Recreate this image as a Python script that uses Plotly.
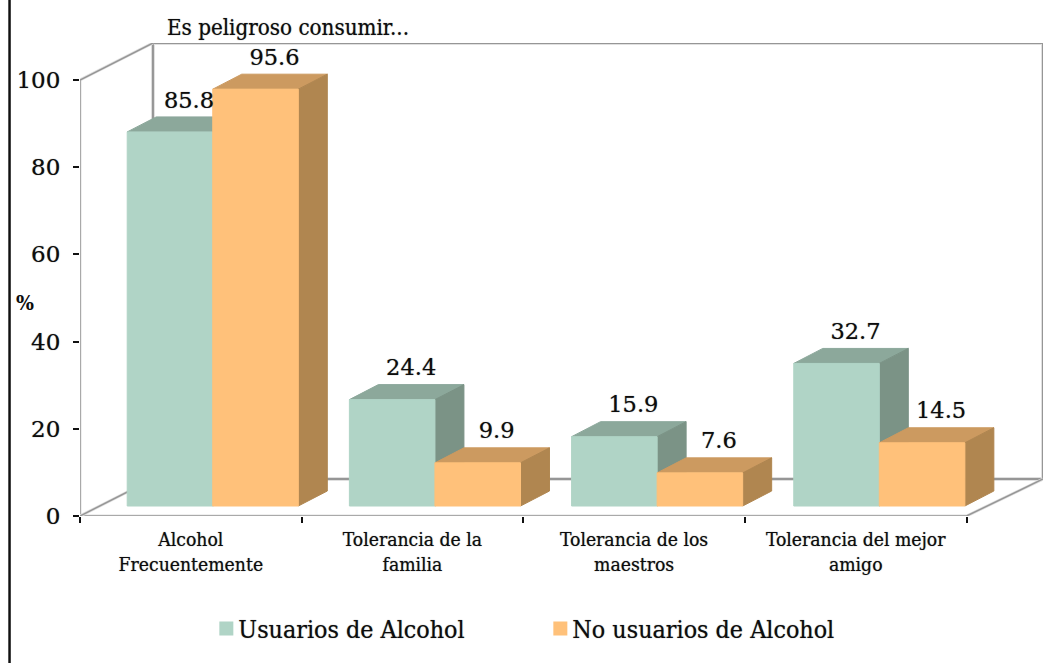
import plotly.graph_objects as go

categories = ["Alcohol<br>Frecuentemente", "Tolerancia de la<br>familia",
              "Tolerancia de los<br>maestros", "Tolerancia del mejor<br>amigo"]
usuarios = [85.8, 24.4, 15.9, 32.7]
no_usuarios = [95.6, 9.9, 7.6, 14.5]
y_ticks = [0, 20, 40, 60, 80, 100]
series_names = ["Usuarios de Alcohol", "No usuarios de Alcohol"]
title_text = "Es peligroso consumir..."
FONT = "DejaVu Serif Condensed"
NUM_FONT = "DejaVu Serif"
INK = "#0c0c0c"
HALO = "0 0 1px rgba(0,0,0,0.55)"

# axis geometry (figure pixels)
PX_L, PX_R, PX_T, PX_B = 80, 1043.5, 43, 516
W, H = 1054, 663
CAT_PX = 221.75
VAL_PX = 4.36
WALL_DX_L, WALL_DX_R, WALL_DY = 73 / CAT_PX, 76.5 / CAT_PX, 37 / VAL_PX
BAR_START, BAR_W, GROUP_STEP = 0.213, 0.386, 222.3 / CAT_PX
BAR_LIFT = 10 / VAL_PX
BAR_DX, BAR_DY = 29 / CAT_PX, 15 / VAL_PX
LABEL_DX, LABEL_DY = 19 / CAT_PX, 30 / VAL_PX


def paper_x(px):
    return (px - PX_L) / (PX_R - PX_L)


def paper_y(py):
    return (PX_B - py) / (PX_B - PX_T)


COLORS = [
    dict(front="#B0D4C6", top="#8CA89B", side="#7B9386"),
    dict(front="#FFC17A", top="#CC9A60", side="#B08650"),
]

fig = go.Figure()


def wall(xs, ys, width=2, halo=4):
    fig.add_trace(go.Scatter(x=xs, y=ys, mode="lines", showlegend=False, hoverinfo="skip",
                             line=dict(color="#E0E0E0", width=halo)))
    fig.add_trace(go.Scatter(x=xs, y=ys, mode="lines", showlegend=False, hoverinfo="skip",
                             line=dict(color="#969696", width=width)))


n = len(categories)
top_val = y_ticks[-1]
wall([WALL_DX_L, n + WALL_DX_R, n + WALL_DX_R, WALL_DX_L, WALL_DX_L],
     [top_val + WALL_DY, top_val + WALL_DY, WALL_DY, WALL_DY, top_val + WALL_DY])
wall([WALL_DX_L, 0, 0, n, n + WALL_DX_R],
     [top_val + WALL_DY, top_val, 0, 0, WALL_DY], width=1.5, halo=3)
wall([0, WALL_DX_L], [0, WALL_DY], width=1.5, halo=3)


def face(xs, ys, color):
    fig.add_trace(go.Scatter(x=xs + xs[:1], y=ys + ys[:1], mode="lines", fill="toself",
                             fillcolor=color, showlegend=False, hoverinfo="skip",
                             line=dict(color=color, width=1)))


for i in range(n):
    for s, vals in enumerate([usuarios, no_usuarios]):
        v = vals[i]
        c = COLORS[s]
        x0 = i * GROUP_STEP + BAR_START + s * BAR_W
        x1 = x0 + BAR_W
        y0 = BAR_LIFT
        y1 = BAR_LIFT + v
        face([x0, x0 + BAR_DX, x1 + BAR_DX, x1], [y1, y1 + BAR_DY, y1 + BAR_DY, y1], c["top"])
        face([x1, x1 + BAR_DX, x1 + BAR_DX, x1], [y0, y0 + BAR_DY, y1 + BAR_DY, y1], c["side"])
        face([x0, x1, x1, x0], [y0, y0, y1, y1], c["front"])

label_x, label_y, label_t = [], [], []
for i in range(n):
    for s, vals in enumerate([usuarios, no_usuarios]):
        label_x.append(i * GROUP_STEP + BAR_START + (s + 0.5) * BAR_W + LABEL_DX)
        label_y.append(BAR_LIFT + vals[i] + LABEL_DY)
        label_t.append(f"{vals[i]:.1f}")
fig.add_trace(go.Scatter(x=label_x, y=label_y, text=label_t, mode="text", showlegend=False,
                         hoverinfo="skip", cliponaxis=False,
                         textposition="middle center",
                         textfont=dict(family=NUM_FONT, size=22.5, color=INK, shadow=HALO)))

for s, name in enumerate(series_names):
    fig.add_trace(go.Scatter(x=[None], y=[None], mode="markers", name=name,
                             marker=dict(symbol="square", size=14, color=COLORS[s]["front"])))

fig.update_layout(
    width=W, height=H,
    margin=dict(l=PX_L, r=W - PX_R, t=PX_T, b=H - PX_B, autoexpand=False),
    paper_bgcolor="white", plot_bgcolor="white",
    font=dict(family=FONT, color=INK),
    title=dict(text=title_text, x=167 / W, xanchor="left", xref="container",
               y=1 - 27 / H, yanchor="middle", yref="container",
               font=dict(family=FONT, size=22.2, color=INK, shadow=HALO)),
    xaxis=dict(range=[0, (PX_R - PX_L) / CAT_PX], showgrid=False, zeroline=False, showline=False,
               tickvals=[i + 0.5 for i in range(n)], ticktext=categories,
               tickangle=0, ticks="", ticklabelstandoff=10,
               tickfont=dict(family=FONT, size=19.2, color=INK, shadow=HALO),
               minor=dict(tickvals=list(range(n + 1)), ticks="outside", ticklen=6,
                          tickcolor="#111", tickwidth=2)),
    yaxis=dict(range=[0, (PX_B - PX_T) / VAL_PX], showgrid=False, zeroline=False, showline=False,
               tickvals=y_ticks, ticks="outside", ticklen=6, tickwidth=2, tickcolor="#111",
               ticklabelstandoff=8,
               tickfont=dict(family=NUM_FONT, size=23, color=INK, shadow=HALO)),
    legend=dict(orientation="h", x=paper_x(198.4), xanchor="left", y=paper_y(629), yanchor="middle",
                entrywidth=289, entrywidthmode="pixels", itemwidth=30,
                font=dict(family=FONT, size=24.8, color=INK, shadow=HALO),
                bgcolor="rgba(0,0,0,0)"),
    annotations=[dict(text="<b>%</b>", x=paper_x(25), y=paper_y(302), xref="paper", yref="paper",
                      showarrow=False, xanchor="center", yanchor="middle",
                      font=dict(family=FONT, size=21, color=INK))],
    shapes=[dict(type="line", xref="paper", yref="paper", x0=paper_x(9.5), x1=paper_x(9.5),
                 y0=paper_y(H), y1=paper_y(0), line=dict(color="#111", width=2.5))],
)
fig.write_html(
    "out.html",
    config={"displayModeBar": False},
    post_script=(
        "document.body.style.margin='0';"
        "document.querySelectorAll('.legendsymbols').forEach(function(g){"
        "g.setAttribute('transform','translate(8,0)');});"
    ),
)
